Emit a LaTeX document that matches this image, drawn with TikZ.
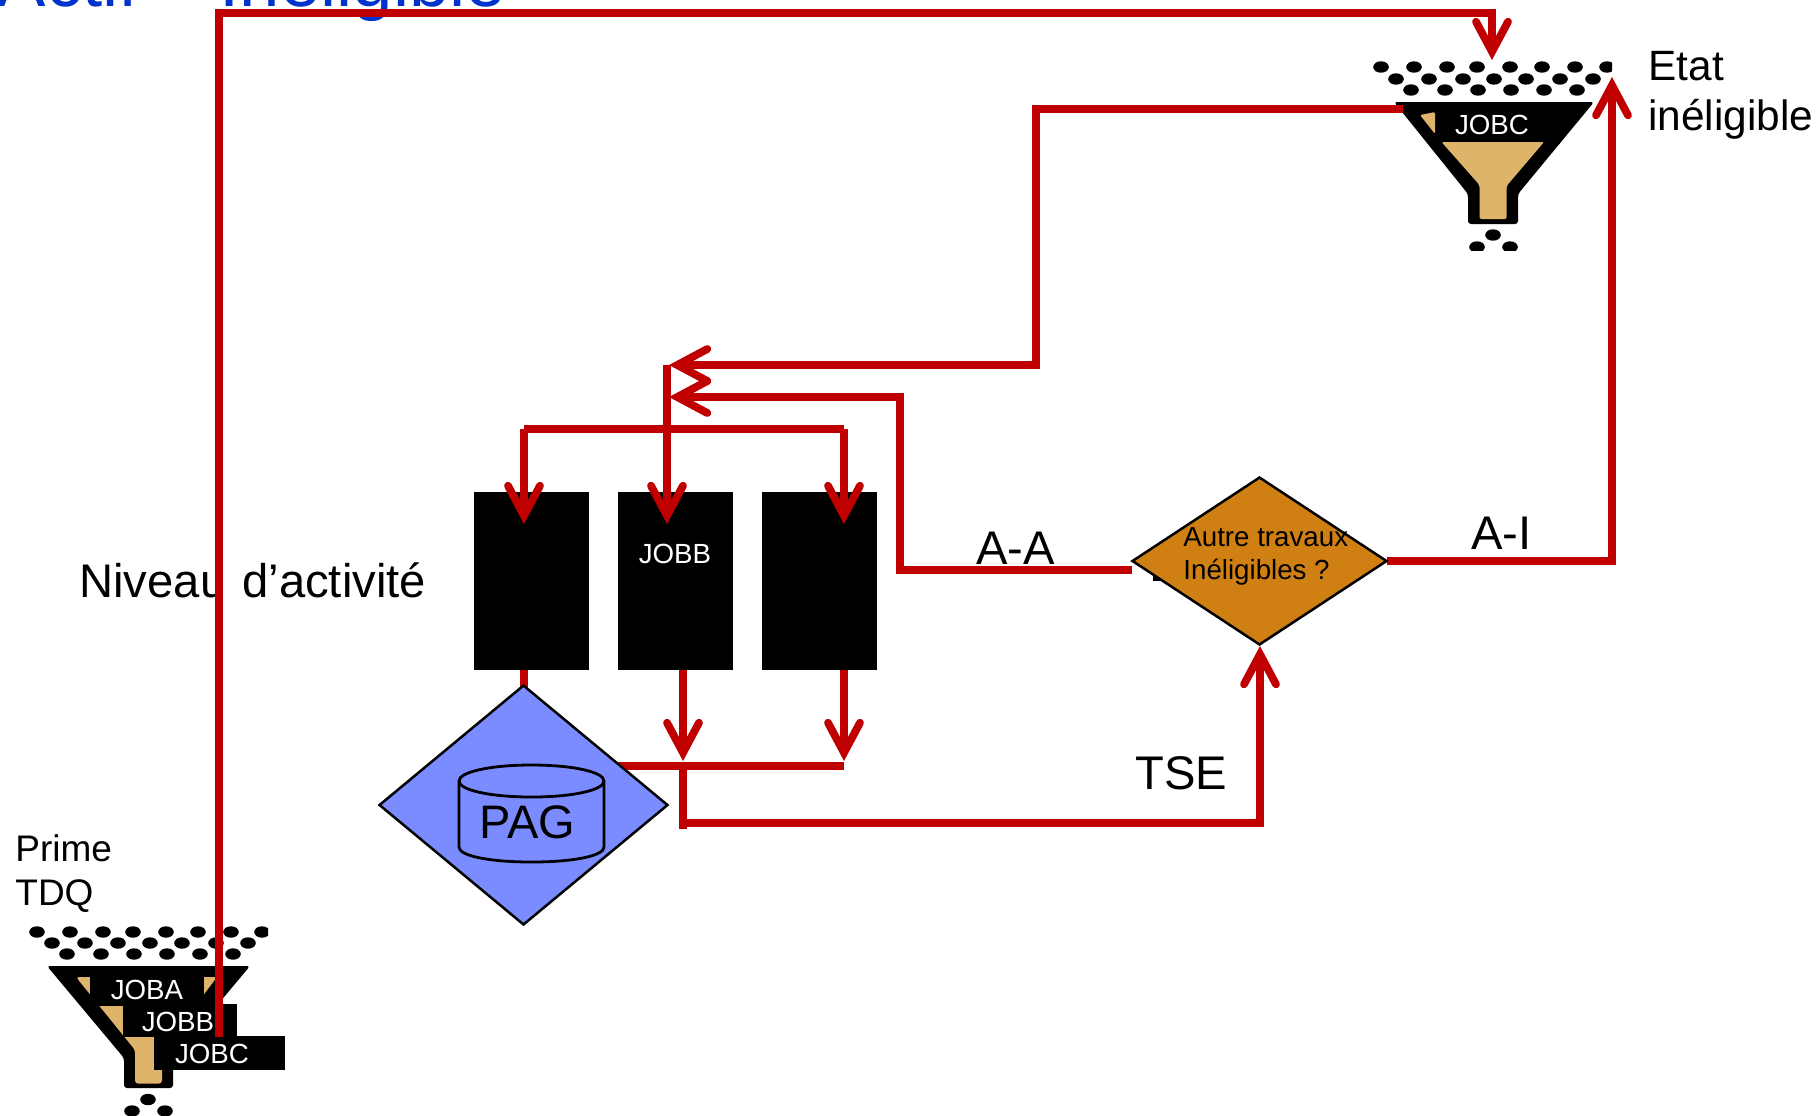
\documentclass[tikz,border=0pt]{standalone}
\usepackage{fontspec}
\setmainfont{Liberation Sans}
\usetikzlibrary{arrows.meta,shapes.geometric}
\definecolor{flowred}{HTML}{C00000}
\definecolor{tantone}{HTML}{DEB36A}
\definecolor{decide}{HTML}{D08012}
\definecolor{pagblue}{HTML}{7A8CFF}
\definecolor{titleblue}{HTML}{0033CC}
\newcommand{\fs}[1]{\fontsize{#1}{#1}\selectfont}
\tikzset{
  x=0.5pt,y=-0.5pt,
  flow/.style={draw=flowred,line width=3.9pt,line join=miter},
  flowtip/.style={flow,-{Straight Barb[length=15pt,width=16pt,line width=3.9pt,line cap=round,line join=miter]}},
  jobbox/.style={fill=black,inner sep=0pt,minimum height=#1},
  jobtext/.style={text=white,inner sep=0pt,font=\fs{13.85}},
  tag/.style={inner sep=0pt,anchor=base west,font=\fs{23.6}},
  small/.style={inner sep=0pt,align=left,anchor=base west,font=\fontsize{18.5}{22}\selectfont},
  large/.style={inner sep=0pt,align=left,anchor=base west,font=\fontsize{21.2}{25}\selectfont},
  activity/.style={fill=black,inner sep=0pt,minimum width=57.5pt,minimum height=89pt},
  dia/.style={diamond,draw=black,line width=1.25pt,inner sep=0pt,line join=miter},
}
\newcommand{\dotrow}[2]{\foreach \px in {#1}{\fill[black] (\px,#2) ellipse [x radius=3.9pt,y radius=2.85pt];}}
\begin{document}
\begin{tikzpicture}
\useasboundingbox (0,0) rectangle (1818,1115);
\node[inner sep=0pt,anchor=base west,text=titleblue,font=\fs{36.3}] (title) at (-2.6,6.4) {Actif – Inéligible};

% lower-left funnel
\begin{scope}
\clip (0,900) rectangle (268,1115);
\dotrow{37,70,103,133,166,198,231,262}{932}
\dotrow{52,85,118,150,182,216,248}{943}
\dotrow{67,101,134,167,200,233}{954}
\dotrow{148}{1099.5}
\dotrow{132,165}{1111}
\end{scope}
\fill[black,rounded corners=1.5pt] (47,966) -- (250,966) -- (173,1058) -- (173,1088) -- (124,1088) -- (124,1058) -- cycle;
\fill[tantone,rounded corners=1.5pt] (76,977) -- (217,977) -- (162,1050) -- (162,1083.5) -- (135,1083.5) -- (135,1050) -- cycle;
\node[jobbox=15pt,minimum width=57pt] (boxa) at (147,991) {};
\node[jobbox=16.5pt,minimum width=57pt] (boxb) at (179.5,1020.7) {};
\node[jobbox=17pt,minimum width=65.3pt] (boxc) at (219.7,1053) {};
\node[jobtext] (joba) at (147,990) {JOBA};
\node[jobtext] (jobb) at (178,1021.5) {JOBB};
\node[jobtext] (jobc) at (212,1053.5) {JOBC};
\node[small] (prime) at (15,905) {Prime\\TDQ};

% upper-right funnel
\begin{scope}
\clip (1300,40) rectangle (1612,250);
\dotrow{1381,1414,1447,1477,1510,1542,1575,1607}{67}
\dotrow{1396,1429,1463,1494,1526,1560,1593}{79}
\dotrow{1411,1445,1478,1511,1544,1577}{90}
\dotrow{1493}{235}
\dotrow{1477,1510}{247}
\end{scope}
\fill[black,rounded corners=1.5pt] (1394,102) -- (1594,102) -- (1518,194) -- (1518,224) -- (1468,224) -- (1468,194) -- cycle;
\fill[tantone,rounded corners=1pt] (1420,115) -- (1435,112) -- (1435,134) -- cycle;
\fill[tantone,rounded corners=1pt] (1441.5,142) -- (1544,142) -- (1506.5,186) -- (1506.5,219) -- (1479.5,219) -- (1479.5,185) -- cycle;
\coordinate (funnelout) at (1403,109);
\node[jobtext] (jobctop) at (1492,125) {JOBC};
\node[large] (etat) at (1648,130) {Etat\\inéligible};

% activity boxes
\node[activity] (act1) at (531,580.5) {};
\node[activity] (act2) at (675.5,580.5) {};
\node[activity] (act3) at (819.5,580.5) {};
\node[jobtext] (jobbact) at (675,554) {JOBB};

% labels
\node[tag] (niveau) at (79,597) {Niveau\hspace{1.5pt} d’activité};
\node[tag] (aa) at (976,564) {A-A};
\node[tag] (ai) at (1471,549) {A-I};
\node[tag] (tse) at (1135,789) {TSE};

% junction coordinates
\coordinate (a1) at (219,1037);
\coordinate (a2) at (219,13);
\coordinate (a3) at (1492,13);
\coordinate (a4) at (1492,60);
\coordinate (b1) at (1036,109);
\coordinate (b2) at (1036,365);
\coordinate (hub) at (667,365);
\coordinate (hubtip) at (669,365);
\coordinate (c1) at (1132,570);
\coordinate (c2) at (900,570);
\coordinate (c3) at (900,397);
\coordinate (c4) at (669,397);
\coordinate (d0) at (667,524);
\coordinate (d1) at (524,429);
\coordinate (d2) at (844,429);
\coordinate (d3) at (524,524);
\coordinate (d4) at (844,524);
\coordinate (e0) at (524,670);
\coordinate (e1) at (524,700);
\coordinate (f1) at (683,670);
\coordinate (f2) at (683,761);
\coordinate (g1) at (844,670);
\coordinate (g2) at (844,761);
\coordinate (h1) at (600,766);
\coordinate (h2) at (844,766);
\coordinate (i1) at (683,766);
\coordinate (i2) at (683,829);
\coordinate (i0) at (683,823);
\coordinate (i3) at (1260,823);
\coordinate (i4) at (1260,646);
\coordinate (j1) at (1387,561);
\coordinate (j2) at (1612,561);
\coordinate (j3) at (1612,77);

% red flow lines
\draw[flowtip] (a1) -- (a2) -- (a3) -- (a4);
\draw[flowtip] (funnelout) -- (b1) -- (b2) -- (hubtip);
\draw[flowtip] (c1) -- (c2) -- (c3) -- (c4);
\draw[flowtip] (hub) -- (d0);
\draw[flow] (d1) -- (d2);
\draw[flowtip] (d1) -- (d3);
\draw[flowtip] (d2) -- (d4);
\draw[flow] (e0) -- (e1);
\draw[flowtip] (f1) -- (f2);
\draw[flowtip] (g1) -- (g2);
\draw[flow] (h1) -- (h2);
\draw[flow] (i1) -- (i2);
\draw[flowtip] (i0) -- (i3) -- (i4);
\draw[flowtip] (j1) -- (j2) -- (j3);

% PAG decision
\node[dia,fill=pagblue,minimum width=144.5pt,minimum height=120pt,shape aspect=1.2] (pag) at (523.5,805) {};
\draw[black,line width=1.4pt,fill=pagblue] (459,781) .. controls (459,772) and (490,765) .. (531.5,765) .. controls (573,765) and (604,772) .. (604,781) -- (604,847) .. controls (604,856) and (573,862) .. (531.5,862) .. controls (490,862) and (459,856) .. (459,847) -- cycle;
\draw[black,line width=1.4pt] (459,781) .. controls (459,790) and (490,797) .. (531.5,797) .. controls (573,797) and (604,790) .. (604,781);
\node[inner sep=0pt,font=\fs{23.5}] (pagtext) at (527.5,822) {PAG};

% other decision
\fill[black] (1153,574) rectangle (1164,581);
\node[dia,fill=decide,minimum width=127.5pt,minimum height=84pt,shape aspect=1.52] (autre) at (1259.5,561) {};
\node[inner sep=0pt,align=left,anchor=north west,font=\fontsize{13.85}{16.5}\selectfont] (autretext) at (1183,527) {Autre travaux\\Inéligibles ?};
\end{tikzpicture}
\end{document}
